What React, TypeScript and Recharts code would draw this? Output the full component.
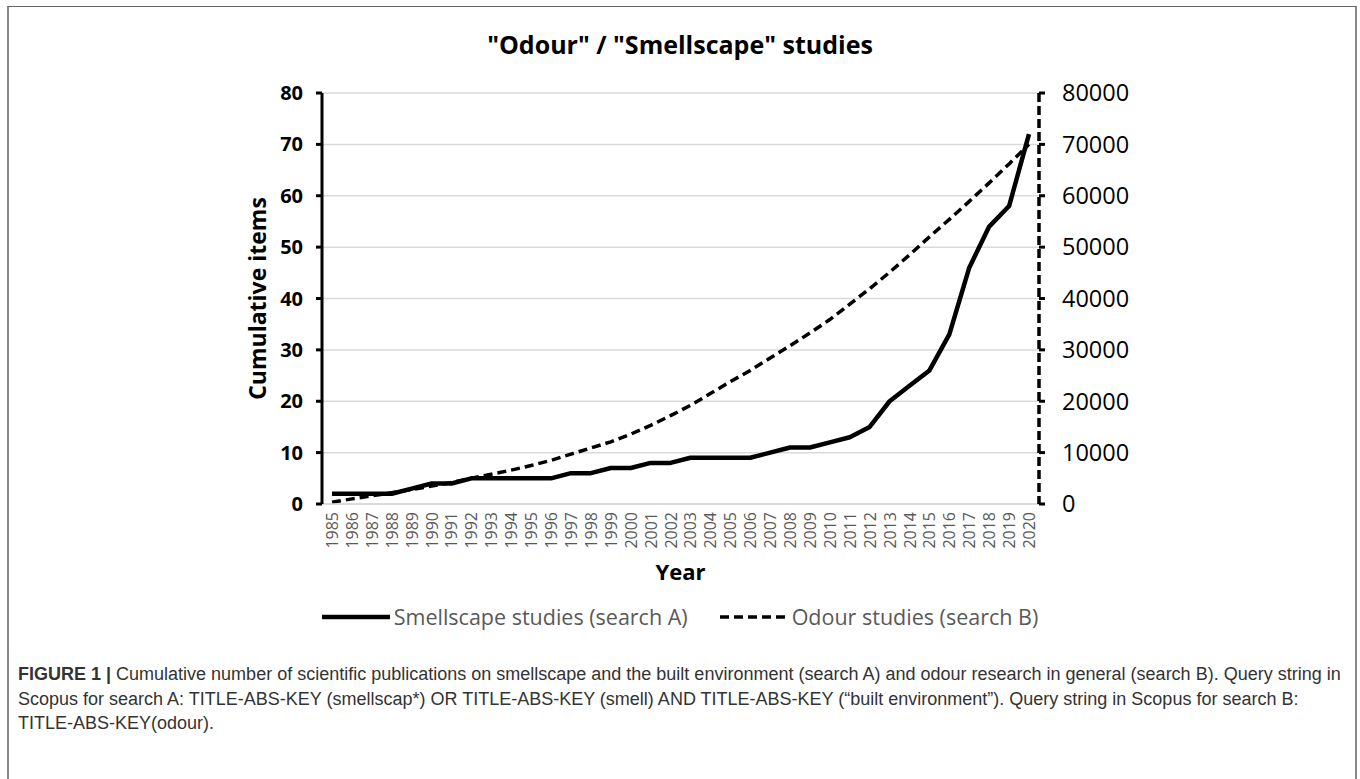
import React from "react";
import { CartesianGrid, Line, LineChart, XAxis, YAxis } from "recharts";

const years = [
    "1985", "1986", "1987", "1988", "1989", "1990", "1991", "1992", "1993", "1994", "1995", "1996",
    "1997", "1998", "1999", "2000", "2001", "2002", "2003", "2004", "2005", "2006", "2007", "2008",
    "2009", "2010", "2011", "2012", "2013", "2014", "2015", "2016", "2017", "2018", "2019", "2020",
];

// search A, cumulative items (left axis)
const smellscapeStudies = [
    2, 2, 2, 2, 3, 4, 4, 5, 5, 5, 5, 5,
    6, 6, 7, 7, 8, 8, 9, 9, 9, 9, 10, 11,
    11, 12, 13, 15, 20, 23, 26, 33, 46, 54, 58, 72,
];

// search B, cumulative items (right axis)
const odourStudies = [
    350, 1000, 1600, 2200, 2800, 3500, 4200, 5000, 5800, 6600, 7500, 8500,
    9700, 10900, 12100, 13600, 15300, 17200, 19200, 21500, 23800, 26000, 28400, 30800,
    33300, 35900, 38900, 41900, 45100, 48500, 52000, 55400, 58900, 62500, 66200, 70000,
];

const leftTicks = [0, 10, 20, 30, 40, 50, 60, 70, 80];
const rightTicks = [0, 10000, 20000, 30000, 40000, 50000, 60000, 70000, 80000];

const data = years.map((year, i) => ({
    year,
    smellscape: smellscapeStudies[i],
    odour: odourStudies[i],
}));

const chartFont = "'Open Sans', sans-serif";
const captionFont = "'Liberation Sans', Arial, sans-serif";

function YearTick({ x, y, payload }: any) {
    return (
        <text
            x={x}
            y={y}
            transform={`rotate(-90, ${x}, ${y})`}
            textAnchor="end"
            dominantBaseline="central"
            fontSize={16}
            fill="#595959"
            fontFamily={chartFont}
        >
            {payload.value}
        </text>
    );
}

function LegendItem({ label, dashed }: { label: string; dashed?: boolean }) {
    return (
        <div style={{ display: "flex", alignItems: "center" }}>
            <svg width={68} height={10}>
                <line
                    x1={0}
                    y1={5}
                    x2={68}
                    y2={5}
                    stroke="#000"
                    strokeWidth={dashed ? 3.5 : 4.5}
                    strokeDasharray={dashed ? "9 5" : undefined}
                />
            </svg>
            <span style={{ marginLeft: 4, fontSize: 21.5, color: "#595959", fontFamily: chartFont }}>{label}</span>
        </div>
    );
}

export default function App() {
    return (
        <div style={{ position: "absolute", left: 0, top: 0, width: 1360, height: 779, overflow: "hidden", background: "#fff" }}>
            <div
                style={{
                    position: "absolute",
                    left: 7,
                    top: 6,
                    width: 1346,
                    height: 800,
                    borderTop: "1px solid #666",
                    borderLeft: "2px solid #888",
                    borderRight: "2px solid #888",
                }}
            />
            <div
                style={{
                    position: "absolute",
                    left: 0,
                    top: 27,
                    width: 1360,
                    textAlign: "center",
                    fontFamily: chartFont,
                    fontWeight: 700,
                    fontSize: 25,
                    color: "#000",
                }}
            >
                "Odour" / "Smellscape" studies
            </div>
            <div style={{ position: "absolute", left: 0, top: 0 }}>
                <LineChart width={1360} height={640} data={data} margin={{ top: 93, right: 0, bottom: 80, left: 0 }}>
                    <CartesianGrid yAxisId="left" vertical={false} stroke="#d9d9d9" strokeWidth={1.5} />
                    <XAxis
                        dataKey="year"
                        interval={0}
                        height={56}
                        padding={{ left: 10, right: 10 }}
                        tick={<YearTick />}
                        tickLine={false}
                        tickSize={0}
                        tickMargin={8}
                        axisLine={{ stroke: "#d9d9d9", strokeWidth: 1.5 }}
                        label={{
                            value: "Year",
                            position: "insideBottom",
                            offset: -20,
                            style: { fontFamily: chartFont, fontWeight: 700, fontSize: 22, fill: "#000" },
                        }}
                    />
                    <YAxis
                        yAxisId="left"
                        orientation="left"
                        width={322}
                        domain={[0, 80]}
                        ticks={leftTicks}
                        tickSize={6}
                        tickMargin={13}
                        axisLine={{ stroke: "#000", strokeWidth: 3 }}
                        tickLine={{ stroke: "#000", strokeWidth: 3 }}
                        tick={{ fill: "#000", fontSize: 20, fontWeight: 700, fontFamily: chartFont }}
                        label={{
                            value: "Cumulative items",
                            angle: -90,
                            position: "insideLeft",
                            offset: 258,
                            style: { textAnchor: "middle", fontFamily: chartFont, fontWeight: 700, fontSize: 23, fill: "#000" },
                        }}
                    />
                    <YAxis
                        yAxisId="right"
                        orientation="right"
                        width={321}
                        domain={[0, 80000]}
                        ticks={rightTicks}
                        tickSize={6}
                        tickMargin={17}
                        axisLine={{ stroke: "#000", strokeWidth: 3.5, strokeDasharray: "9 4" }}
                        tickLine={{ stroke: "#000", strokeWidth: 3 }}
                        tick={{ fill: "#000", fontSize: 23.5, fontFamily: chartFont, textAnchor: "start" }}
                    />
                    <Line
                        yAxisId="right"
                        type="linear"
                        dataKey="odour"
                        stroke="#000"
                        strokeWidth={3.5}
                        strokeDasharray="9 5"
                        dot={false}
                        isAnimationActive={false}
                    />
                    <Line
                        yAxisId="left"
                        type="linear"
                        dataKey="smellscape"
                        stroke="#000"
                        strokeWidth={4.5}
                        strokeLinejoin="round"
                        dot={false}
                        isAnimationActive={false}
                    />
                </LineChart>
            </div>
            <div
                style={{
                    position: "absolute",
                    left: 0,
                    top: 602,
                    width: 1360,
                    display: "flex",
                    justifyContent: "center",
                    gap: 32,
                }}
            >
                <LegendItem label="Smellscape studies (search A)" />
                <LegendItem label="Odour studies (search B)" dashed />
            </div>
            <div
                style={{
                    position: "absolute",
                    left: 18,
                    top: 662,
                    fontFamily: captionFont,
                    fontSize: 18,
                    lineHeight: "24.5px",
                    color: "#333",
                    whiteSpace: "nowrap",
                }}
            >
                <div>
                    <b>FIGURE 1 |</b> Cumulative number of scientific publications on smellscape and the built environment
                    (search A) and odour research in general (search B). Query string in
                </div>
                <div>
                    Scopus for search A: TITLE-ABS-KEY (smellscap*) OR TITLE-ABS-KEY (smell) AND TITLE-ABS-KEY (“built
                    environment”). Query string in Scopus for search B:
                </div>
                <div>TITLE-ABS-KEY(odour).</div>
            </div>
        </div>
    );
}
